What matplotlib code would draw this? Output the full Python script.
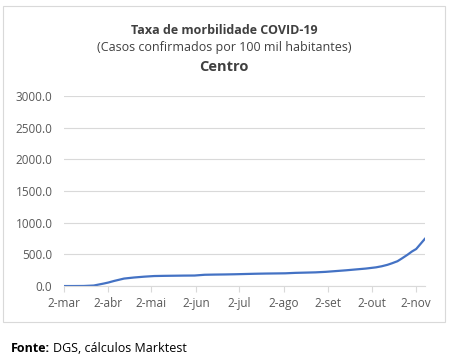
import pandas as pd
import matplotlib.pyplot as plt
from matplotlib.patches import Rectangle

# dados (casos por 100 mil habitantes, Centro)
datas = ['2020-03-02', '2020-03-09', '2020-03-16', '2020-03-23', '2020-03-30',
         '2020-04-02', '2020-04-06', '2020-04-13', '2020-04-20', '2020-04-27',
         '2020-05-04', '2020-05-11', '2020-05-18', '2020-05-25', '2020-06-01',
         '2020-06-08', '2020-06-15', '2020-06-22', '2020-06-29', '2020-07-06',
         '2020-07-13', '2020-07-20', '2020-07-27', '2020-08-03', '2020-08-10',
         '2020-08-17', '2020-08-24', '2020-08-31', '2020-09-07', '2020-09-14',
         '2020-09-21', '2020-09-28', '2020-10-05', '2020-10-09', '2020-10-13',
         '2020-10-16', '2020-10-20', '2020-10-23', '2020-10-27', '2020-10-30',
         '2020-11-02', '2020-11-05', '2020-11-08']
valores = [0, 0, 1, 8, 40,
           55, 80, 118, 135, 148,
           158, 161, 163, 165, 166,
           178, 181, 183, 186, 190,
           194, 197, 199, 201, 208,
           212, 216, 224, 236, 248,
           262, 276, 295, 312, 335,
           358, 392, 435, 495, 545,
           585, 665, 745]
meses = ['mar', 'abr', 'mai', 'jun', 'jul', 'ago', 'set', 'out', 'nov']
y_ticks = [0, 500, 1000, 1500, 2000, 2500, 3000]

datas = pd.to_datetime(datas)

plt.rcParams['font.family'] = ['Open Sans', 'DejaVu Sans']

fig = plt.figure(figsize=(4.51, 3.63), dpi=100)
ax = fig.add_axes([0.141, 0.212, 0.801, 0.5235])

# moldura do grafico
fig.patches.append(Rectangle((3/451, 1-322/363), 442/451, 316/363,
                             transform=fig.transFigure, fill=False,
                             edgecolor='#d9d9d9', linewidth=0.8))

ax.plot(datas, valores, color='#4472c4', linewidth=1.6)

ax.set_ylim(0, 3000)
ax.set_yticks(y_ticks)
ax.set_yticklabels([f'{v:.1f}' for v in y_ticks])
ax.set_xlim(datas[0], datas[-1])

tick_pos = pd.to_datetime([f'2020-{m:02d}-02' for m in range(3, 12)])
ax.set_xticks(tick_pos)
ax.set_xticklabels(['2-' + m for m in meses])

ax.grid(axis='y', color='#d9d9d9', linewidth=0.8)
ax.set_axisbelow(True)
for s in ['top', 'right', 'left']:
    ax.spines[s].set_visible(False)
ax.spines['bottom'].set_color('#d9d9d9')
ax.tick_params(axis='y', length=0, labelsize=8.5, labelcolor='#595959', pad=8)
ax.tick_params(axis='x', length=4, color='#d9d9d9', labelsize=8.5,
               labelcolor='#595959', pad=4)

fig.text(224/451, 1-30/363, 'Taxa de morbilidade COVID-19', ha='center',
         va='center', fontsize=9, fontweight='bold', color='#404040')
fig.text(224/451, 1-47/363, '(Casos confirmados por 100 mil habitantes)',
         ha='center', va='center', fontsize=9, color='#404040')
fig.text(224/451, 1-67/363, 'Centro', ha='center', va='center',
         fontsize=10.5, fontweight='bold', color='#404040')

t = fig.text(11/451, 1-348/363, 'Fonte:', ha='left', va='center',
             fontsize=9, fontweight='bold', color='black')
fig.canvas.draw()
bb = t.get_window_extent()
fig.text((bb.x1 + 3)/451, 1-348/363, 'DGS, cálculos Marktest', ha='left',
         va='center', fontsize=9, color='black')

fig.savefig('out.png', dpi=100)
